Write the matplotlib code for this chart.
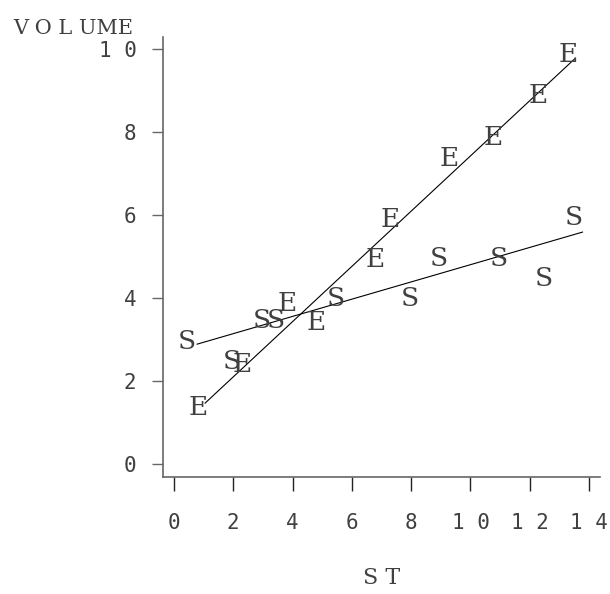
import matplotlib
matplotlib.use("Agg")
import matplotlib.pyplot as plt

e_x = [0.81, 2.30, 3.82, 4.80, 6.79, 7.30, 9.29, 10.78, 12.30, 13.31]
e_y = [1.37, 2.39, 3.88, 3.42, 4.92, 5.90, 7.37, 7.88, 8.87, 9.86]
s_x = [0.44, 1.96, 2.97, 3.45, 5.47, 7.97, 8.95, 10.95, 12.47, 13.48]
s_y = [2.96, 2.48, 3.47, 3.47, 3.98, 3.98, 4.96, 4.96, 4.46, 5.95]

# fitted line end points
e_line_x = [1.05, 13.51]
e_line_y = [1.47, 9.76]
s_line_x = [0.78, 13.78]
s_line_y = [2.89, 5.59]

x_ticks = [0, 2, 4, 6, 8, 10, 12, 14]
x_labels = ["0", "2", "4", "6", "8", "1 0", "1 2", "1 4"]
y_ticks = [0, 2, 4, 6, 8, 10]
y_labels = ["0", "2", "4", "6", "8", "1 0"]

SERIF = ["DejaVu Serif Condensed", "DejaVu Serif"]
MONO = "DejaVu Sans Mono"
TXT = "#404040"

fig = plt.figure(figsize=(6.1, 5.94), dpi=100)
ax = fig.add_axes([163 / 610, 1 - 477 / 594, 437 / 610, 440 / 594])

ax.plot(e_line_x, e_line_y, color="black", linewidth=0.8)
ax.plot(s_line_x, s_line_y, color="black", linewidth=0.8)

for x, y in zip(e_x, e_y):
    ax.text(x, y, "E", family=SERIF, fontsize=19, color=TXT,
            ha="center", va="center")
for x, y in zip(s_x, s_y):
    ax.text(x, y, "S", family=SERIF, fontsize=19, color=TXT,
            ha="center", va="center")

ax.set_xlim(-0.37, 14.37)
ax.set_ylim(-0.31, 10.29)

ax.spines["top"].set_visible(False)
ax.spines["right"].set_visible(False)
for side in ("left", "bottom"):
    ax.spines[side].set_color("#666666")
    ax.spines[side].set_linewidth(1.2)

ax.set_xticks(x_ticks)
ax.set_xticklabels(x_labels, family=MONO, fontsize=15, color=TXT)
ax.set_yticks(y_ticks)
ax.set_yticklabels(y_labels, family=MONO, fontsize=15, color=TXT)
ax.tick_params(axis="x", length=10, width=1, color="#222222", pad=16)
ax.tick_params(axis="y", length=8, width=1, color="#666666", pad=11)

ax.set_xlabel("S T", family=SERIF, fontsize=16, color=TXT)
ax.xaxis.set_label_coords(0.5, -0.23)
ax.xaxis.label.set_va("center")

fig.text(13 / 610, 1 - 28 / 594, "V O L UME", family=SERIF, fontsize=15,
         color=TXT, ha="left", va="center")

fig.savefig("out.png", dpi=100)
